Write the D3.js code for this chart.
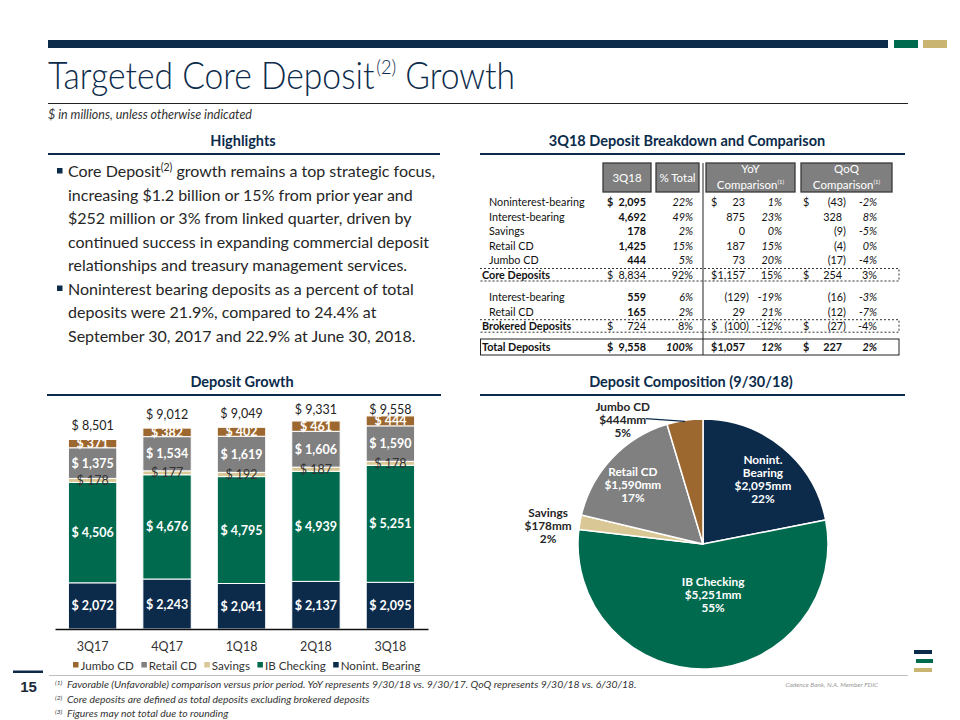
<!DOCTYPE html>
<html><head><meta charset="utf-8">
<script src="https://cdn.jsdelivr.net/npm/d3@7"></script>
<style>
body{margin:0;background:#fff;}
svg{display:block;font-family:Lato,"Open Sans",sans-serif;}
</style></head>
<body><svg id="c" width="960" height="720"></svg>
<script>
// ---------------- DATA ----------------
const quarters = ["3Q17","4Q17","1Q18","2Q18","3Q18"];
const nonintBearing = [2072,2243,2041,2137,2095];
const ibChecking    = [4506,4676,4795,4939,5251];
const savingsDep    = [178,177,192,187,178];
const retailCD      = [1375,1534,1619,1606,1590];
const jumboCD       = [371,382,402,461,444];
const totalDeposits = [8501,9012,9049,9331,9558];
const seriesNames   = ["Nonint. Bearing","IB Checking","Savings","Retail CD","Jumbo CD"];

const pieNames  = ["Nonint. Bearing","IB Checking","Savings","Retail CD","Jumbo CD"];
const pieValues = [2095,5251,178,1590,444];
const piePct    = [22,55,2,17,5];

const tableLabels = ["Noninterest-bearing","Interest-bearing","Savings","Retail CD","Jumbo CD","Core Deposits","Interest-bearing","Retail CD","Brokered Deposits","Total Deposits"];
const q318Values  = [2095,4692,178,1425,444,8834,559,165,724,9558];
const pctOfTotal  = [22,49,2,15,5,92,6,2,8,100];
const yoyAmount   = [23,875,0,187,73,1157,-129,29,-100,1057];
const yoyPct      = [1,23,0,15,20,15,-19,21,-12,12];
const qoqAmount   = [-43,328,-9,-4,-17,254,-16,-12,-27,227];
const qoqPct      = [-2,8,-5,0,-4,3,-3,-7,-4,2];
const rowKind     = ["detail","detail","detail","detail","detail","sub","detail","detail","sub","total"];

const highlightLines = [
  ["Core Deposit","(2)"," growth remains a top strategic focus,"],
  ["increasing $1.2 billion or 15% from prior year and"],
  ["$252 million or 3% from linked quarter, driven by"],
  ["continued success in expanding commercial deposit"],
  ["relationships and treasury management services."],
  ["Noninterest bearing deposits as a percent of total"],
  ["deposits were 21.9%, compared to 24.4% at"],
  ["September 30, 2017 and 22.9% at June 30, 2018."]
];
const bulletStarts = [0,5];
const footnotes = [
  ["(1)","Favorable (Unfavorable) comparison versus prior period. YoY represents 9/30/18 vs. 9/30/17.  QoQ represents 9/30/18 vs. 6/30/18."],
  ["(2)","Core deposits are defined as total deposits excluding brokered deposits"],
  ["(3)","Figures may not total due to rounding"]
];

// ---------------- STYLE ----------------
const NAVY="#0c2b4b", GREEN="#006a4e", TAN="#d9c896", GRAY="#808080", BROWN="#9d682f", GOLD="#c9b571";
const seriesColors = [NAVY, GREEN, TAN, GRAY, BROWN];
const svg = d3.select("#c");
const fmt = d3.format(",");

// ---------------- HEADER ----------------
svg.append("rect").attr("x",48).attr("y",40).attr("width",840).attr("height",8).attr("fill",NAVY);
svg.append("rect").attr("x",894).attr("y",40).attr("width",24).attr("height",8).attr("fill",GREEN);
svg.append("rect").attr("x",923).attr("y",40).attr("width",24).attr("height",8).attr("fill",GOLD);

const title = svg.append("text").attr("x",48).attr("y",89).attr("font-size",37).attr("font-weight",300).attr("fill",NAVY);
title.append("tspan").text("Targeted Core Deposit");
title.append("tspan").attr("font-size",20).attr("dx",2).attr("dy",-15).text("(2)");
title.append("tspan").attr("dy",15).text(" Growth");
title.attr("textLength",467).attr("lengthAdjust","spacingAndGlyphs");

svg.append("line").attr("x1",48).attr("x2",908).attr("y1",103.5).attr("y2",103.5).attr("stroke","#222").attr("stroke-width",1);
svg.append("text").attr("x",48).attr("y",119).attr("font-size",12.5).attr("font-style","italic").attr("fill","#333")
  .text("$ in millions, unless otherwise indicated");

function sectionTitle(txt, cx, x1, x2, baseY){
  svg.append("text").attr("x",cx).attr("y",baseY).attr("text-anchor","middle").attr("font-size",14.5)
    .attr("font-weight","bold").attr("fill",NAVY).text(txt);
  svg.append("line").attr("x1",x1).attr("x2",x2).attr("y1",baseY+8).attr("y2",baseY+8)
    .attr("stroke",NAVY).attr("stroke-width",2);
}
sectionTitle("Highlights",243,48,440,146);
sectionTitle("3Q18 Deposit Breakdown and Comparison",687,480,905,146);
sectionTitle("Deposit Growth",242,47,441,387);
sectionTitle("Deposit Composition (9/30/18)",691,480,905,387);

// ---------------- HIGHLIGHTS ----------------
highlightLines.forEach((parts,i)=>{
  const yb = 177 + i*23.5;
  if (bulletStarts.includes(i)) {
    svg.append("rect").attr("x",57).attr("y",yb-9).attr("width",5.5).attr("height",5.5).attr("fill",NAVY);
  }
  const t = svg.append("text").attr("x",68).attr("y",yb).attr("font-size",16).attr("fill","#262626");
  parts.forEach(p=>{
    if (p.startsWith("(")) t.append("tspan").attr("font-size",10.5).attr("dy",-6).text(p);
    else if (t.selectAll("tspan").size()>0) t.append("tspan").attr("dy",6).text(p);
    else t.append("tspan").text(p);
  });
});

// ---------------- TABLE ----------------
const hdrY = 163, hdrH = 29;
const headers = [
  {x:603,w:48,lines:["3Q18"]},
  {x:656,w:43,lines:["% Total"]},
  {x:706,w:89,lines:["YoY","Comparison"]},
  {x:801,w:91,lines:["QoQ","Comparison"]}
];
headers.forEach(h=>{
  svg.append("rect").attr("x",h.x).attr("y",hdrY).attr("width",h.w).attr("height",hdrH)
    .attr("fill","#7f7f7f").attr("stroke","#3a3a3a").attr("stroke-width",1.3);
  const cx = h.x + h.w/2;
  if (h.lines.length===1){
    svg.append("text").attr("x",cx).attr("y",hdrY+hdrH/2+4).attr("text-anchor","middle")
      .attr("font-size",11.5).attr("fill","#fff").text(h.lines[0]);
  } else {
    svg.append("text").attr("x",cx).attr("y",hdrY+10).attr("text-anchor","middle")
      .attr("font-size",11.5).attr("fill","#fff").text(h.lines[0]);
    const t = svg.append("text").attr("x",cx).attr("y",hdrY+26).attr("text-anchor","middle")
      .attr("font-size",11.5).attr("fill","#fff");
    t.append("tspan").text(h.lines[1]);
    t.append("tspan").attr("font-size",6).attr("dy",-5).text("(1)");
  }
});
svg.append("line").attr("x1",703).attr("x2",703).attr("y1",163).attr("y2",355).attr("stroke","#222").attr("stroke-width",1);

function rowCenter(i){
  if (i<6) return 202 + i*14.6;
  if (i<9) return 297 + (i-6)*14.6;
  return 347;
}
function cell(x,y,txt,anchor,opts={}){
  svg.append("text").attr("x",x).attr("y",y).attr("text-anchor",anchor).attr("font-size",10.8)
    .attr("fill","#111").attr("font-weight",opts.bold?"bold":"normal")
    .attr("font-style",opts.italic?"italic":"normal").text(txt);
}
function amt(v){ return v<0 ? "("+fmt(-v)+")" : fmt(v); }

tableLabels.forEach((lab,i)=>{
  const y = rowCenter(i)+4;
  const kind = rowKind[i];
  const dollar = (i===0 || kind!=="detail");
  const labBold = kind!=="detail";
  cell(labBold?482:489, y, lab, "start", {bold:labBold});
  if (dollar) cell(607,y,"$","start",{bold:kind!=="sub"});
  cell(646,y,fmt(q318Values[i]),"end",{bold:kind!=="sub"});
  cell(693,y,pctOfTotal[i]+"%","end",{italic:kind!=="sub", bold:kind==="total"});
  if (dollar) cell(711,y,"$","start",{bold:kind==="total"});
  cell(yoyAmount[i]<0?749:745,y,amt(yoyAmount[i]),"end",{bold:kind==="total"});
  cell(782,y,yoyPct[i]+"%","end",{italic:kind!=="sub", bold:kind==="total"});
  if (dollar) cell(803,y,"$","start",{bold:kind==="total"});
  cell(qoqAmount[i]<0?846:842,y,amt(qoqAmount[i]),"end",{bold:kind==="total"});
  cell(877,y,qoqPct[i]+"%","end",{italic:kind!=="sub", bold:kind==="total"});

  if (kind==="sub"){
    const c = rowCenter(i);
    svg.append("path").attr("d",`M480,${c-6.5}H899V${c+6}H480`).attr("fill","none")
      .attr("stroke","#333").attr("stroke-width",1).attr("stroke-dasharray","2,2");
  }
  if (kind==="total"){
    const c = rowCenter(i);
    svg.append("rect").attr("x",480.5).attr("y",c-8).attr("width",418.5).attr("height",16)
      .attr("fill","none").attr("stroke","#222").attr("stroke-width",1);
  }
});

// ---------------- BAR CHART ----------------
const x = d3.scaleBand().domain(quarters).range([55,428]).paddingInner(0.35).paddingOuter(0.18);
const y = d3.scaleLinear().domain([0,10000]).range([629,406.1]);
const barRows = quarters.map((q,i)=>({q, s0:nonintBearing[i], s1:ibChecking[i], s2:savingsDep[i], s3:retailCD[i], s4:jumboCD[i], total:totalDeposits[i]}));
const keys = ["s0","s1","s2","s3","s4"];
const stacked = d3.stack().keys(keys)(barRows);

const gBars = svg.append("g");
stacked.forEach((layer,k)=>{
  gBars.selectAll(null).data(layer).enter().append("rect")
    .attr("x",d=>x(d.data.q)).attr("width",x.bandwidth())
    .attr("y",d=>y(d[1])).attr("height",d=>y(d[0])-y(d[1]))
    .attr("fill",seriesColors[k]).attr("stroke","#fff").attr("stroke-width",1);
});
stacked.forEach((layer,k)=>{
  gBars.selectAll(null).data(layer).enter().append("text")
    .attr("x",d=>x(d.data.q)+x.bandwidth()/2)
    .attr("y",d=>(y(d[0])+y(d[1]))/2).attr("dy","0.36em")
    .attr("text-anchor","middle").attr("font-size",12.5)
    .attr("font-weight",k===2?"normal":"bold")
    .attr("fill",k===2?"#333":"#fff")
    .text(d=>"$ "+fmt(d.data[keys[k]]));
});
gBars.selectAll(null).data(barRows).enter().append("text")
  .attr("x",d=>x(d.q)+x.bandwidth()/2)
  .attr("y",d=>Math.max(y(d.total)-14,409)).attr("dy","0.36em")
  .attr("text-anchor","middle").attr("font-size",12.5).attr("fill","#222")
  .text(d=>"$ "+fmt(d.total));

const xAxis = svg.append("g").attr("transform","translate(0,629)")
  .call(d3.axisBottom(x).tickSize(0).tickSizeOuter(0));
xAxis.select(".domain").attr("stroke","#111").attr("stroke-width",1.5);
xAxis.selectAll("text").attr("y",13).attr("dy","0.71em").attr("font-size",12.5).attr("fill","#333").attr("font-family","Lato");

// legend
const legendOrder = [4,3,2,1,0];
let lx = 73;
legendOrder.forEach(k=>{
  svg.append("rect").attr("x",lx).attr("y",662).attr("width",5.5).attr("height",5.5).attr("fill",seriesColors[k]);
  const t = svg.append("text").attr("x",lx+7.5).attr("y",669.5).attr("font-size",11.6).attr("fill","#333").text(seriesNames[k]);
  lx += 7.5 + t.node().getComputedTextLength() + 7.5;
});

// ---------------- PIE ----------------
const pcx = 703, pcy = 544, R = 125;
const pie = d3.pie().sort(null).value(d=>d.v)(pieValues.map((v,i)=>({v,i})));
const arc = d3.arc().innerRadius(0).outerRadius(R);
const gPie = svg.append("g").attr("transform",`translate(${pcx},${pcy})`);
gPie.selectAll("path").data(pie).enter().append("path").attr("d",arc)
  .attr("fill",d=>seriesColors[d.data.i]).attr("stroke","#fff").attr("stroke-width",1.5);

const labelLines = [
  ["Nonint.","Bearing","$"+fmt(pieValues[0])+"mm",piePct[0]+"%"],
  ["IB Checking","$"+fmt(pieValues[1])+"mm",piePct[1]+"%"],
  ["Savings","$"+fmt(pieValues[2])+"mm",piePct[2]+"%"],
  ["Retail CD","$"+fmt(pieValues[3])+"mm",piePct[3]+"%"],
  ["Jumbo CD","$"+fmt(pieValues[4])+"mm",piePct[4]+"%"]
];
// label placement: [radius, angle offset (deg) from slice mid-angle, inside?]
const labelPlace = [[88,3.5,true],[52,-9,true],[156,-3.2,false],[92,-3,true],[148,-24.5,false]];
pie.forEach((d,k)=>{
  const mid = (d.startAngle+d.endAngle)/2;
  const [r,off,inside] = labelPlace[k];
  const a = mid + off*Math.PI/180;
  const cx = r*Math.sin(a), cy = -r*Math.cos(a);
  const lines = labelLines[k];
  const n = lines.length;
  lines.forEach((ln,j)=>{
    gPie.append("text").attr("x",cx).attr("y",cy + (j-(n-1)/2)*13).attr("dy","0.36em")
      .attr("text-anchor","middle").attr("font-size",11.8).attr("font-weight","bold")
      .attr("fill",inside?"#fff":"#262626").text(ln);
  });
  if (k===4){
    gPie.append("line").attr("x1",(R-1)*Math.sin(mid)).attr("y1",-(R-1)*Math.cos(mid))
      .attr("x2",cx+23).attr("y2",cy-1).attr("stroke",NAVY).attr("stroke-width",1.2);
  }
});

// ---------------- FOOTER ----------------
svg.append("rect").attr("x",13).attr("y",670.5).attr("width",30).attr("height",2.5).attr("fill",NAVY);
svg.append("line").attr("x1",49).attr("x2",908).attr("y1",675.5).attr("y2",675.5).attr("stroke","#bfbfbf").attr("stroke-width",1);
svg.append("text").attr("x",28.5).attr("y",692).attr("text-anchor","middle").attr("font-size",15)
  .attr("font-weight","bold").attr("fill","#1b2a3a").attr("font-family","'Liberation Sans',Arial,sans-serif").text("15");
footnotes.forEach((f,i)=>{
  const yb = 688 + i*14.5;
  svg.append("text").attr("x",55).attr("y",yb-3).attr("font-size",6.5).attr("font-style","italic").attr("fill","#333").text(f[0]);
  svg.append("text").attr("x",67).attr("y",yb).attr("font-size",10.4).attr("font-style","italic").attr("fill","#333").text(f[1]);
});
svg.append("text").attr("x",878).attr("y",687).attr("text-anchor","end").attr("font-size",6.5)
  .attr("font-style","italic").attr("fill","#999").text("Cadence Bank, N.A. Member FDIC");
svg.append("rect").attr("x",914).attr("y",650).attr("width",18).attr("height",4).attr("fill",NAVY);
svg.append("rect").attr("x",916).attr("y",659).attr("width",17).attr("height",4).attr("fill",GREEN);
svg.append("rect").attr("x",914).attr("y",668).attr("width",18).attr("height",4).attr("fill",GOLD);
</script>
</body></html>
